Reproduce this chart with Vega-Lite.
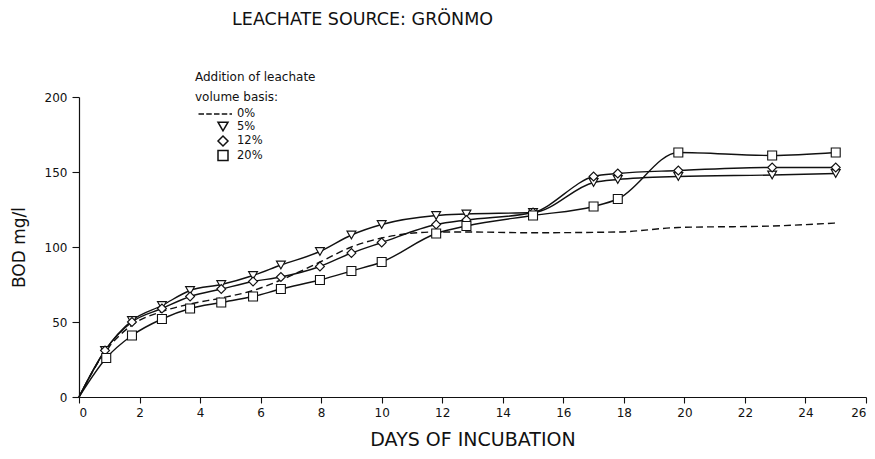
{
  "$schema": "https://vega.github.io/schema/vega-lite/v6.json",
  "width": 787,
  "height": 300,
  "autosize": {"type": "none"},
  "padding": {"left": 79, "top": 97, "right": 9, "bottom": 62},
  "background": "white",
  "config": {
    "view": {"stroke": null},
    "font": "DejaVu Sans",
    "axis": {"domainColor": "#111", "tickColor": "#111", "labelColor": "#111", "titleColor": "#111", "grid": false, "domainWidth": 1.2, "tickWidth": 1.1},
    "legend": {"orient": "none", "legendX": 116, "legendY": -25, "titleFontSize": 12, "titleFontWeight": "normal", "titleLineHeight": 20, "titlePadding": 4, "labelFontSize": 11.5, "rowPadding": -1.5, "symbolOffset": 22, "labelOffset": 8, "titleColor": "#111", "labelColor": "#111"}
  },
  "title": {"text": "LEACHATE SOURCE: GRÖNMO", "anchor": "start", "dx": 222, "offset": 44, "fontSize": 17.5, "fontWeight": "normal", "color": "#111", "font": "DejaVu Sans"},
  "data": {"values": [
    {"series": "0%", "day": 0, "bod": 0},
    {"series": "0%", "day": 0.86, "bod": 30},
    {"series": "0%", "day": 1.75, "bod": 48},
    {"series": "0%", "day": 2.74, "bod": 57},
    {"series": "0%", "day": 3.67, "bod": 62},
    {"series": "0%", "day": 4.7, "bod": 66},
    {"series": "0%", "day": 5.75, "bod": 71},
    {"series": "0%", "day": 6.67, "bod": 78},
    {"series": "0%", "day": 7.96, "bod": 90},
    {"series": "0%", "day": 9.0, "bod": 100},
    {"series": "0%", "day": 10.0, "bod": 106},
    {"series": "0%", "day": 11.8, "bod": 110},
    {"series": "0%", "day": 12.8, "bod": 110},
    {"series": "0%", "day": 15.0, "bod": 109.5},
    {"series": "0%", "day": 17.8, "bod": 110},
    {"series": "0%", "day": 19.8, "bod": 113},
    {"series": "0%", "day": 22.9, "bod": 114},
    {"series": "0%", "day": 25.0, "bod": 116},
    {"series": "5%", "day": 0, "bod": 0},
    {"series": "5%", "day": 0.86, "bod": 31},
    {"series": "5%", "day": 1.75, "bod": 51},
    {"series": "5%", "day": 2.74, "bod": 61},
    {"series": "5%", "day": 3.67, "bod": 71},
    {"series": "5%", "day": 4.7, "bod": 75},
    {"series": "5%", "day": 5.75, "bod": 81},
    {"series": "5%", "day": 6.67, "bod": 88},
    {"series": "5%", "day": 7.96, "bod": 97},
    {"series": "5%", "day": 9.0, "bod": 108},
    {"series": "5%", "day": 10.0, "bod": 115},
    {"series": "5%", "day": 11.8, "bod": 121},
    {"series": "5%", "day": 12.8, "bod": 122},
    {"series": "5%", "day": 15.0, "bod": 123},
    {"series": "5%", "day": 17.0, "bod": 143},
    {"series": "5%", "day": 17.8, "bod": 145},
    {"series": "5%", "day": 19.8, "bod": 147},
    {"series": "5%", "day": 22.9, "bod": 148},
    {"series": "5%", "day": 25.0, "bod": 149},
    {"series": "12%", "day": 0, "bod": 0},
    {"series": "12%", "day": 0.86, "bod": 31},
    {"series": "12%", "day": 1.75, "bod": 50},
    {"series": "12%", "day": 2.74, "bod": 59},
    {"series": "12%", "day": 3.67, "bod": 67},
    {"series": "12%", "day": 4.7, "bod": 72},
    {"series": "12%", "day": 5.75, "bod": 77},
    {"series": "12%", "day": 6.67, "bod": 80},
    {"series": "12%", "day": 7.96, "bod": 87},
    {"series": "12%", "day": 9.0, "bod": 96},
    {"series": "12%", "day": 10.0, "bod": 103},
    {"series": "12%", "day": 11.8, "bod": 115},
    {"series": "12%", "day": 12.8, "bod": 118},
    {"series": "12%", "day": 15.0, "bod": 123},
    {"series": "12%", "day": 17.0, "bod": 147},
    {"series": "12%", "day": 17.8, "bod": 149},
    {"series": "12%", "day": 19.8, "bod": 151},
    {"series": "12%", "day": 22.9, "bod": 153},
    {"series": "12%", "day": 25.0, "bod": 153},
    {"series": "20%", "day": 0, "bod": 0},
    {"series": "20%", "day": 0.9, "bod": 26},
    {"series": "20%", "day": 1.75, "bod": 41},
    {"series": "20%", "day": 2.74, "bod": 52},
    {"series": "20%", "day": 3.67, "bod": 59},
    {"series": "20%", "day": 4.7, "bod": 63},
    {"series": "20%", "day": 5.75, "bod": 67},
    {"series": "20%", "day": 6.67, "bod": 72},
    {"series": "20%", "day": 7.96, "bod": 78},
    {"series": "20%", "day": 9.0, "bod": 84},
    {"series": "20%", "day": 10.0, "bod": 90},
    {"series": "20%", "day": 11.8, "bod": 109},
    {"series": "20%", "day": 12.8, "bod": 114},
    {"series": "20%", "day": 15.0, "bod": 121},
    {"series": "20%", "day": 17.0, "bod": 127},
    {"series": "20%", "day": 17.8, "bod": 132},
    {"series": "20%", "day": 19.8, "bod": 163},
    {"series": "20%", "day": 22.9, "bod": 161},
    {"series": "20%", "day": 25.0, "bod": 163}
  ]},
  "encoding": {
    "x": {"field": "day", "type": "quantitative", "scale": {"domain": [0, 26], "nice": false},
      "axis": {"values": [0, 2, 4, 6, 8, 10, 12, 14, 16, 18, 20, 22, 24, 26], "title": "DAYS OF INCUBATION", "titleFontSize": 19, "titleFontWeight": "normal", "titlePadding": 12, "labelFontSize": 12, "tickSize": 6, "labelPadding": 4}},
    "y": {"field": "bod", "type": "quantitative", "scale": {"domain": [0, 200], "nice": false},
      "axis": {"values": [0, 50, 100, 150, 200], "title": "BOD mg/l", "titleFontSize": 17, "titleFontWeight": "normal", "titlePadding": 16, "labelFontSize": 12, "tickSize": 7, "labelPadding": 5}}
  },
  "layer": [
    {
      "transform": [{"filter": "datum.series == '0%'"}],
      "mark": {"type": "line", "interpolate": "monotone", "strokeWidth": 1.4, "color": "#111", "strokeDash": [7, 4]},
      "encoding": {"detail": {"field": "series"}}
    },
    {
      "transform": [{"filter": "datum.series != '0%'"}],
      "mark": {"type": "line", "interpolate": "monotone", "strokeWidth": 1.4, "color": "#111"},
      "encoding": {"detail": {"field": "series"}}
    },
    {
      "transform": [{"filter": "datum.day > 0 && datum.series != '0%'"}],
      "mark": {"type": "point", "filled": true, "fill": "white", "stroke": "#111", "strokeWidth": 1.1, "size": 80, "opacity": 1},
      "encoding": {
        "shape": {"field": "series", "type": "nominal",
          "scale": {"domain": ["0%", "5%", "12%", "20%"], "range": ["M-4.9,0H-3.8M-3.35,0H-2.25M-1.8,0H-0.7M-0.25,0H0.85M1.3,0H1.8", "triangle-down", "diamond", "square"]},
          "legend": {"title": ["Addition of leachate", "volume basis:"]}}
      }
    }
  ]
}
